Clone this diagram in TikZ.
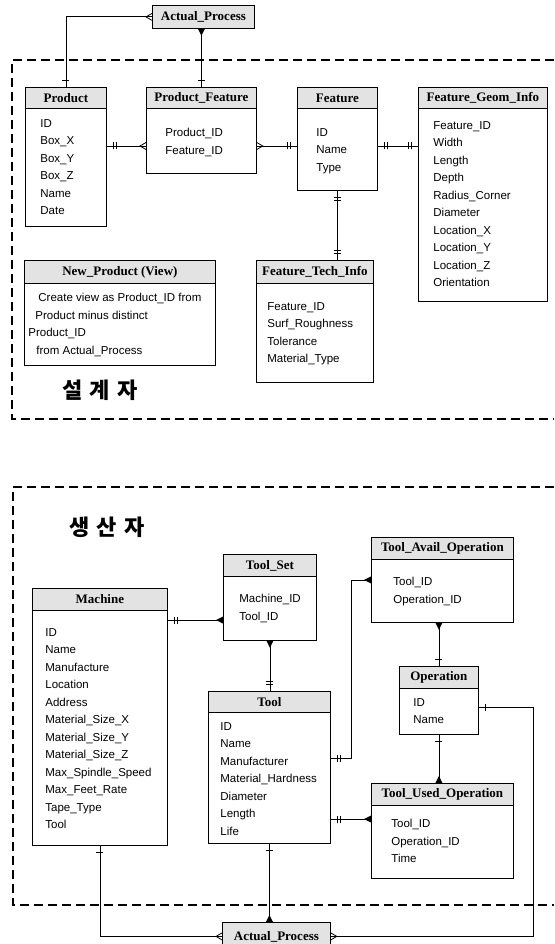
\documentclass[tikz,border=0pt]{standalone}
\usepackage{fontspec}
\setmainfont{Liberation Sans}
\newfontfamily\titlefont{Liberation Serif}
\newfontfamily\kor{Noto Sans CJK KR}
\usetikzlibrary{decorations.markings}

\begin{document}
\begin{tikzpicture}[x=1pt, y=-1pt, line width=0.8pt, every node/.style={inner sep=0pt},
  box/.style={draw, anchor=north west},
  head/.style={draw, fill=gray!22, anchor=north west, font=\titlefont\bfseries\fontsize{13}{13}\selectfont},
  items/.style={anchor=north west, align=left, font=\fontsize{11.5}{17.5}\selectfont},
  frame/.style={line width=1.1pt, dash pattern=on 9pt off 5pt},
  mk/.style={postaction={decorate, decoration={markings, mark=at position #1}}},
  bar start/.style={mk={7pt with {\draw (0,-3.5pt) -- (0,3.5pt);}}},
  bar end/.style={mk={-7pt with {\draw (0,-3.5pt) -- (0,3.5pt);}}},
  bars start/.style={bar start, mk={10pt with {\draw (0,-3.5pt) -- (0,3.5pt);}}},
  bars end/.style={bar end, mk={-10pt with {\draw (0,-3.5pt) -- (0,3.5pt);}}},
  crow start/.style={mk={6pt with {\draw (-6pt,3.5pt) -- (0,0) -- (-6pt,-3.5pt);}}},
  crow end/.style={mk={-6pt with {\draw (6pt,3.5pt) -- (0,0) -- (6pt,-3.5pt);}}},
  fcrow start/.style={mk={7pt with {\fill (-7pt,3.5pt) -- (0,0) -- (-7pt,-3.5pt) -- cycle;}}},
  fcrow end/.style={mk={-7pt with {\fill (7pt,3.5pt) -- (0,0) -- (7pt,-3.5pt) -- cycle;}}}]
  \useasboundingbox (0,0) rectangle (554,944);
  % two groups, dashed and open on the right
  \draw[frame] (554,60) -- (12,60) -- (12,419) -- (554,419);
  \draw[frame] (554,487) -- (13,487) -- (13,905) -- (554,905);
  \coordinate (r1) at (0,146); \coordinate (r2) at (0,620); \coordinate (r3) at (0,758);
  \coordinate (r4) at (0,819); \coordinate (r5) at (0,707);
  % designer side
  \node[head, minimum width=102pt, minimum height=23pt] (ap1) at (152,5) {Actual\_Process};
  \node[box, minimum width=81pt, minimum height=139pt] (prod) at (25,87) {};
  \node[head, minimum width=81pt, minimum height=21pt] (prod-h) at (25,87) {Product};
  \node[items] (prod-t) at (40,119) {ID\\Box\_X\\Box\_Y\\Box\_Z\\Name\\Date};
  \node[box, minimum width=110pt, minimum height=86pt] (pfeat) at (146,87) {};
  \node[head, minimum width=110pt, minimum height=21pt] (pfeat-h) at (146,87) {Product\_Feature};
  \node[items] (pfeat-t) at (165,128) {Product\_ID\\Feature\_ID};
  \node[box, minimum width=80pt, minimum height=103pt] (feat) at (297,87) {};
  \node[head, minimum width=80pt, minimum height=21pt] (feat-h) at (297,87) {Feature};
  \node[items] (feat-t) at (316,128) {ID\\Name\\Type};
  \node[box, minimum width=129pt, minimum height=214pt] (fgeo) at (418,87) {};
  \node[head, minimum width=129pt, minimum height=21pt] (fgeo-h) at (418,87) {Feature\_Geom\_Info};
  \node[items] (fgeo-t) at (433,121) {Feature\_ID\\Width\\Length\\Depth\\Radius\_Corner\\Diameter\\Location\_X\\Location\_Y\\Location\_Z\\Orientation};
  \node[box, minimum width=191pt, minimum height=105pt] (newp) at (24,260) {};
  \node[head, minimum width=191pt, minimum height=23pt] (newp-h) at (24,260) {New\_Product (View)};
  \node[items] (newp-t) at (28,293) {\hspace*{10pt}Create view as Product\_ID from\\\hspace*{7pt}Product minus distinct\\Product\_ID\\\hspace*{8pt}from Actual\_Process};
  \node[box, minimum width=117pt, minimum height=122pt] (ftech) at (256,260) {};
  \node[head, minimum width=117pt, minimum height=23pt] (ftech-h) at (256,260) {Feature\_Tech\_Info};
  \node[items] (ftech-t) at (267,302) {Feature\_ID\\Surf\_Roughness\\Tolerance\\Material\_Type};
  \node[font=\kor\bfseries\fontsize{22}{22}\selectfont] (design) at (100,390) {설\hspace{7pt}계\hspace{7pt}자};
  \draw[crow start, bar end] (ap1.west) -| (prod.north);
  \draw[fcrow start, bar end] (pfeat.north |- ap1.south) -- (pfeat.north);
  \draw[bars start, crow end] (prod.east |- r1) -- (pfeat.west |- r1);
  \draw[crow start, bars end] (pfeat.east |- r1) -- (feat.west |- r1);
  \draw[bars start, bars end] (feat.east |- r1) -- (fgeo.west |- r1);
  \draw[bars start, bars end] (feat.south) -- (feat.south |- ftech.north);
  % production side
  \node[font=\kor\bfseries\fontsize{22}{22}\selectfont] (maker) at (107,527) {생\hspace{7pt}산\hspace{7pt}자};
  \node[box, minimum width=135pt, minimum height=257pt] (machine) at (32,588) {};
  \node[head, minimum width=135pt, minimum height=22pt] (machine-h) at (32,588) {Machine};
  \node[items] (machine-t) at (45,628) {ID\\Name\\Manufacture\\Location\\Address\\Material\_Size\_X\\Material\_Size\_Y\\Material\_Size\_Z\\Max\_Spindle\_Speed\\Max\_Feet\_Rate\\Tape\_Type\\Tool};
  \node[box, minimum width=93pt, minimum height=86pt] (tset) at (223,554) {};
  \node[head, minimum width=93pt, minimum height=22pt] (tset-h) at (223,554) {Tool\_Set};
  \node[items] (tset-t) at (239,594) {Machine\_ID\\Tool\_ID};
  \node[box, minimum width=142pt, minimum height=85pt] (tavail) at (371,537) {};
  \node[head, minimum width=142pt, minimum height=22pt] (tavail-h) at (371,537) {Tool\_Avail\_Operation};
  \node[items] (tavail-t) at (393,577) {Tool\_ID\\Operation\_ID};
  \node[box, minimum width=122pt, minimum height=152pt] (tool) at (208,691) {};
  \node[head, minimum width=122pt, minimum height=21pt] (tool-h) at (208,691) {Tool};
  \node[items] (tool-t) at (220,722) {ID\\Name\\Manufacturer\\Material\_Hardness\\Diameter\\Length\\Life};
  \node[box, minimum width=79pt, minimum height=68pt] (oper) at (399,666) {};
  \node[head, minimum width=79pt, minimum height=22pt] (oper-h) at (399,666) {Operation};
  \node[items] (oper-t) at (413,698) {ID\\Name};
  \node[box, minimum width=142pt, minimum height=95pt] (tused) at (371,783) {};
  \node[head, minimum width=142pt, minimum height=22pt] (tused-h) at (371,783) {Tool\_Used\_Operation};
  \node[items] (tused-t) at (391,819) {Tool\_ID\\Operation\_ID\\Time};
  \node[head, minimum width=108pt, minimum height=28pt] (ap2) at (222,922) {Actual\_Process};
  \draw[bars start, fcrow end] (machine.east |- r2) -- (tset.west |- r2);
  \draw[fcrow start, bars end] (tset.south) -- (tset.south |- tool.north);
  \draw[bars start, fcrow end] (tool.east |- r3) -- ++(21,0) |- (tavail.west);
  \draw[fcrow start, bar end] (oper.north |- tavail.south) -- (oper.north);
  \draw[bar start, fcrow end] (oper.south) -- (oper.south |- tused.north);
  \draw[bars start, fcrow end] (tool.east |- r4) -- (tused.west |- r4);
  \draw[bar start, crow end] (oper.east |- r5) -- ++(55,0) |- (ap2.east);
  \draw[bar start, crow end] (machine.south) |- (ap2.west);
  \draw[bar start, fcrow end] (tool.south) -- (tool.south |- ap2.north);
\end{tikzpicture}
\end{document}
